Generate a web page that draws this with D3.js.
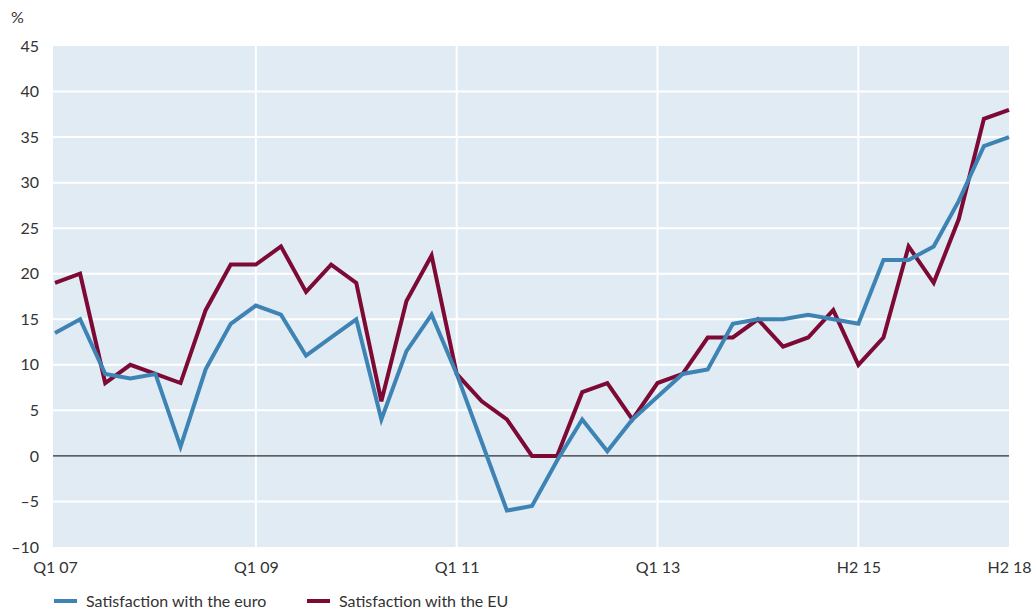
<!DOCTYPE html>
<html>
<head>
<meta charset="utf-8">
<script src="https://cdn.jsdelivr.net/npm/d3@7"></script>
<style>
  body { margin: 0; background: #fff; }
  svg text { font-family: Lato, "Open Sans", sans-serif; fill: #333; }
</style>
</head>
<body>
<div id="chart"></div>
<script>
const frame_width = 1034;
const frame_height = 611;
const margins = {left: 53, right: 25, top: 46, bottom: 64};

// periods: quarterly to Q4 14, then half-years
const periods = [
  "Q1 07","Q2 07","Q3 07","Q4 07","Q1 08","Q2 08","Q3 08","Q4 08",
  "Q1 09","Q2 09","Q3 09","Q4 09","Q1 10","Q2 10","Q3 10","Q4 10",
  "Q1 11","Q2 11","Q3 11","Q4 11","Q1 12","Q2 12","Q3 12","Q4 12",
  "Q1 13","Q2 13","Q3 13","Q4 13","Q1 14","Q2 14","Q3 14","Q4 14",
  "H2 15","H1 16","H2 16","H1 17","H2 17","H1 18","H2 18"
];
const euro = [13.5, 15, 9, 8.5, 9, 1, 9.5, 14.5, 16.5, 15.5, 11, 13, 15, 4, 11.5, 15.5,
  9, 1.5, -6, -5.5, -0.5, 4, 0.5, 4, 6.5, 9, 9.5, 14.5, 15, 15, 15.5, 15,
  14.5, 21.5, 21.5, 23, 28, 34, 35];
const eu = [19, 20, 8, 10, 9, 8, 16, 21, 21, 23, 18, 21, 19, 6, 17, 22,
  9, 6, 4, 0, 0, 7, 8, 4, 8, 9, 13, 13, 15, 12, 13, 16,
  10, 13, 23, 19, 26, 37, 38];
const tick_labels = ["Q1 07", "Q1 09", "Q1 11", "Q1 13", "H2 15", "H2 18"];
const y_ticks = [-10, -5, 0, 5, 10, 15, 20, 25, 30, 35, 40, 45];

const series = [
  {name: "Satisfaction with the euro", values: euro, color: "#3d84b5"},
  {name: "Satisfaction with the EU", values: eu, color: "#7c0a35"}
];

const svg = d3.select("#chart")
  .append("svg")
    .attr("width", frame_width)
    .attr("height", frame_height);

const x_scale = d3.scalePoint()
  .domain(periods)
  .range([55, frame_width - margins.right]);

const y_scale = d3.scaleLinear()
  .domain([-10, 45])
  .range([frame_height - margins.bottom, margins.top]);

// plot background
svg.append("rect")
  .attr("x", margins.left)
  .attr("y", y_scale(45))
  .attr("width", x_scale("H2 18") - margins.left)
  .attr("height", y_scale(-10) - y_scale(45))
  .attr("fill", "#e1ebf4");

// horizontal grid
svg.append("g")
  .selectAll("line")
  .data(y_ticks.filter(d => d !== 0 && d !== 45 && d !== -10))
  .join("line")
    .attr("x1", margins.left)
    .attr("x2", x_scale("H2 18"))
    .attr("y1", d => y_scale(d))
    .attr("y2", d => y_scale(d))
    .attr("stroke", "#fff")
    .attr("stroke-width", 2);

// vertical grid
svg.append("g")
  .selectAll("line")
  .data(tick_labels.slice(1, -1))
  .join("line")
    .attr("x1", d => x_scale(d))
    .attr("x2", d => x_scale(d))
    .attr("y1", y_scale(45))
    .attr("y2", y_scale(-10))
    .attr("stroke", "#fff")
    .attr("stroke-width", 2);

// zero line
svg.append("line")
  .attr("x1", margins.left)
  .attr("x2", x_scale("H2 18"))
  .attr("y1", y_scale(0))
  .attr("y2", y_scale(0))
  .attr("stroke", "#000")
  .attr("stroke-width", 1);

// y axis labels
const y_axis = svg.append("g")
  .attr("transform", "translate(39,0)")
  .call(d3.axisLeft(y_scale).tickValues(y_ticks).tickSize(0).tickPadding(0)
    .tickFormat(d => d < 0 ? "\u2013" + Math.abs(d) : d));
y_axis.select(".domain").remove();
y_axis.selectAll("text").attr("font-size", "16px").attr("fill", "#333");

svg.append("text")
  .attr("x", 11)
  .attr("y", 23)
  .attr("font-size", "16px")
  .text("%");

// x axis labels
const x_axis = svg.append("g")
  .attr("transform", "translate(0," + (y_scale(-10) + 15) + ")")
  .call(d3.axisBottom(x_scale).tickValues(tick_labels).tickSize(0).tickPadding(0));
x_axis.select(".domain").remove();
x_axis.selectAll("text").attr("font-size", "16px").attr("fill", "#333");

// lines
const line = d3.line()
  .x((d, i) => x_scale(periods[i]))
  .y(d => y_scale(d));

series.slice().reverse().forEach(s => {
  svg.append("path")
    .datum(s.values)
    .attr("d", line)
    .attr("fill", "none")
    .attr("stroke", s.color)
    .attr("stroke-width", 4)
    .attr("stroke-linejoin", "miter");
});

// legend
const legend_x = [54, 307];
series.forEach((s, i) => {
  const g = svg.append("g").attr("transform", "translate(" + legend_x[i] + ",601)");
  g.append("line")
    .attr("x1", 0).attr("x2", 23)
    .attr("stroke", s.color)
    .attr("stroke-width", 4);
  g.append("text")
    .attr("x", 32)
    .attr("y", 6)
    .attr("font-size", "16px")
    .text(s.name);
});
</script>
</body>
</html>
